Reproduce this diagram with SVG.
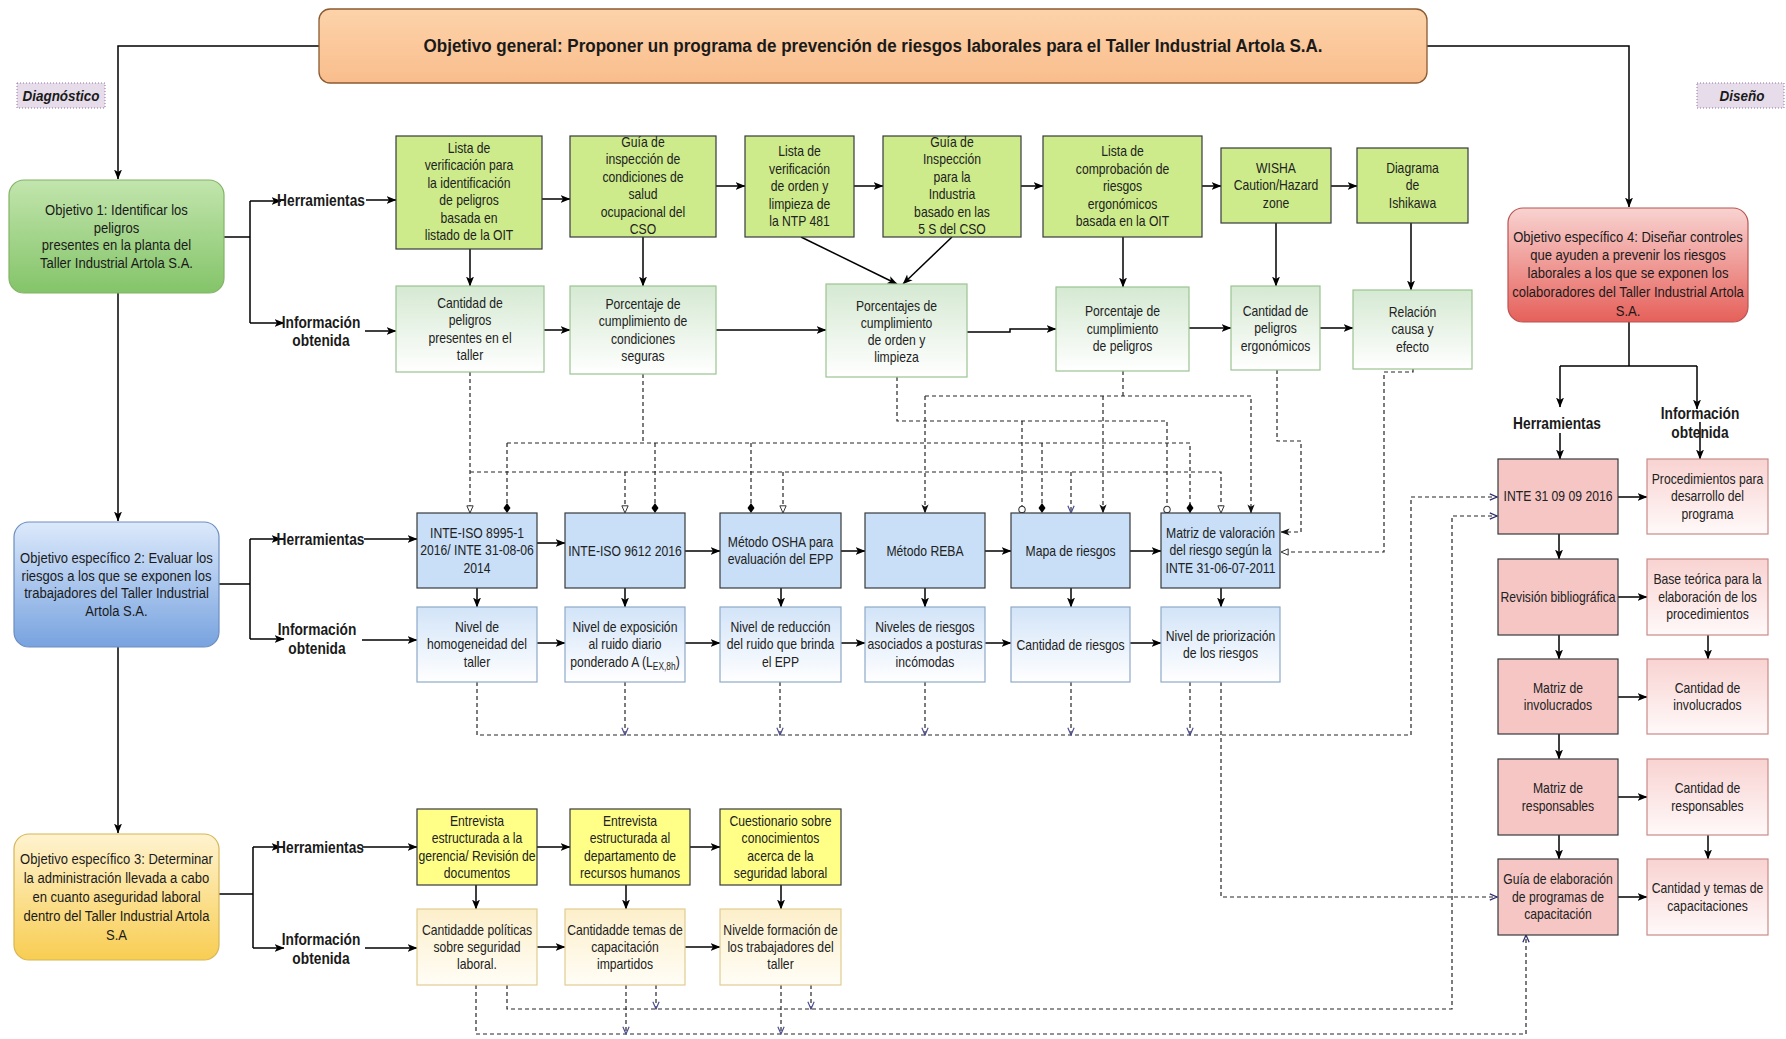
<svg xmlns="http://www.w3.org/2000/svg" width="1786" height="1039" viewBox="0 0 1786 1039">
<defs>
<style>
.t{font-family:"Liberation Sans",Arial,sans-serif;font-size:14.5px;fill:#222;text-anchor:middle}
.to{font-family:"Liberation Sans",Arial,sans-serif;font-size:15px;fill:#1a1a1a;text-anchor:middle}
.lb{font-family:"Liberation Sans",Arial,sans-serif;font-size:16px;font-weight:bold;fill:#1a1a1a;text-anchor:middle}
.tag{font-family:"Liberation Sans",Arial,sans-serif;font-size:15px;font-weight:bold;font-style:italic;fill:#1a1a1a;text-anchor:middle}
.s{fill:none;stroke:#000;stroke-width:1.5}
.d{fill:none;stroke:#262626;stroke-width:1.2;stroke-dasharray:4 3}
.tg{fill:#cdeb8b;stroke:#36393d;stroke-width:1.2}
.ig{fill:url(#gig);stroke:#9cc392;stroke-width:1.2}
.tb{fill:#c8dff7;stroke:#36393d;stroke-width:1.2}
.ib{fill:url(#gib);stroke:#8fa9c9;stroke-width:1.2}
.ty{fill:#ffff88;stroke:#36393d;stroke-width:1.2}
.iy{fill:url(#giy);stroke:#e0cc92;stroke-width:1.2}
.tr{fill:#f5c6c4;stroke:#36393d;stroke-width:1.2}
.ir{fill:url(#gir);stroke:#c98b88;stroke-width:1.2}
</style>
<linearGradient id="gban" x1="0" y1="0" x2="0" y2="1"><stop offset="0" stop-color="#fdd3aa"/><stop offset="1" stop-color="#f9bd8c"/></linearGradient>
<linearGradient id="go1" x1="0" y1="0" x2="0" y2="1"><stop offset="0" stop-color="#c2e5ad"/><stop offset="1" stop-color="#84c469"/></linearGradient>
<linearGradient id="go2" x1="0" y1="0" x2="0" y2="1"><stop offset="0" stop-color="#dce9fb"/><stop offset="1" stop-color="#78a3df"/></linearGradient>
<linearGradient id="go3" x1="0" y1="0" x2="0" y2="1"><stop offset="0" stop-color="#fff3cf"/><stop offset="1" stop-color="#f8cd52"/></linearGradient>
<linearGradient id="go4" x1="0" y1="0" x2="0" y2="1"><stop offset="0" stop-color="#f8d3d1"/><stop offset="1" stop-color="#e6605a"/></linearGradient>
<linearGradient id="gig" x1="0" y1="0" x2="0" y2="1"><stop offset="0" stop-color="#d5e9d2"/><stop offset="1" stop-color="#ffffff"/></linearGradient>
<linearGradient id="gib" x1="0" y1="0" x2="0" y2="1"><stop offset="0" stop-color="#d2e4f8"/><stop offset="1" stop-color="#ffffff"/></linearGradient>
<linearGradient id="giy" x1="0" y1="0" x2="0" y2="1"><stop offset="0" stop-color="#fcefca"/><stop offset="1" stop-color="#fffdf6"/></linearGradient>
<linearGradient id="gir" x1="0" y1="0" x2="0" y2="1"><stop offset="0" stop-color="#f8d3d1"/><stop offset="1" stop-color="#fff9f9"/></linearGradient>
<marker id="a" viewBox="0 0 10 10" refX="9.5" refY="5" markerWidth="10" markerHeight="10" markerUnits="userSpaceOnUse" orient="auto"><path d="M0,1 L10,5 L0,9 L2.5,5 Z" fill="#000"/></marker>
<marker id="ad" viewBox="0 0 10 10" refX="9.5" refY="5" markerWidth="9" markerHeight="9" markerUnits="userSpaceOnUse" orient="auto"><path d="M0,1 L10,5 L0,9 L2.5,5 Z" fill="#111"/></marker>
<marker id="o" viewBox="0 0 10 10" refX="9" refY="5" markerWidth="9" markerHeight="9" markerUnits="userSpaceOnUse" orient="auto"><path d="M1,1.5 L9,5 L1,8.5 Z" fill="#fff" stroke="#333" stroke-width="1.1"/></marker>
<marker id="op" viewBox="0 0 10 10" refX="9" refY="5" markerWidth="9" markerHeight="9" markerUnits="userSpaceOnUse" orient="auto"><path d="M1,1.5 L9,5 L1,8.5" fill="none" stroke="#4b4b90" stroke-width="1.3"/></marker>
<marker id="opb" viewBox="0 0 10 10" refX="9" refY="5" markerWidth="9" markerHeight="9" markerUnits="userSpaceOnUse" orient="auto"><path d="M1,1.5 L9,5 L1,8.5" fill="none" stroke="#2d2d6e" stroke-width="1.4"/></marker>
<marker id="dm" viewBox="0 0 10 10" refX="10" refY="5" markerWidth="10" markerHeight="10" markerUnits="userSpaceOnUse" orient="auto"><path d="M0,5 L5,1.5 L10,5 L5,8.5 Z" fill="#000"/></marker>
<marker id="c" viewBox="0 0 10 10" refX="9.5" refY="5" markerWidth="8" markerHeight="8" markerUnits="userSpaceOnUse" orient="auto"><circle cx="5" cy="5" r="4" fill="#fff" stroke="#333" stroke-width="1.3"/></marker>
</defs>
<rect width="1786" height="1039" fill="#fff"/>

<g id="connectors">
<g id="solid">
<path class="s" d="M319,46 H118 V179" marker-end="url(#a)"/>
<path class="s" d="M1427,46 H1629 V207" marker-end="url(#a)"/>
<path class="s" d="M118,293 V521" marker-end="url(#a)"/>
<path class="s" d="M118,647 V833" marker-end="url(#a)"/>
<path class="s" d="M224,237 H250 M250,201 V323"/>
<path class="s" d="M250,201 H281" marker-end="url(#a)"/>
<path class="s" d="M250,323 H284" marker-end="url(#a)"/>
<path class="s" d="M366,200 H396" marker-end="url(#a)"/>
<path class="s" d="M365,331 H396" marker-end="url(#a)"/>
<path class="s" d="M542,199 H570" marker-end="url(#a)"/>
<path class="s" d="M716,186 H745" marker-end="url(#a)"/>
<path class="s" d="M854,186 H883" marker-end="url(#a)"/>
<path class="s" d="M1021,186 H1043" marker-end="url(#a)"/>
<path class="s" d="M1202,186 H1221" marker-end="url(#a)"/>
<path class="s" d="M1331,186 H1357" marker-end="url(#a)"/>
<path class="s" d="M470,249 V286" marker-end="url(#a)"/>
<path class="s" d="M643,237 V286" marker-end="url(#a)"/>
<path class="s" d="M801,237 L897,284" marker-end="url(#a)"/>
<path class="s" d="M952,237 L903,284" marker-end="url(#a)"/>
<path class="s" d="M1123,237 V287" marker-end="url(#a)"/>
<path class="s" d="M1276,223 V286" marker-end="url(#a)"/>
<path class="s" d="M1411,223 V290" marker-end="url(#a)"/>
<path class="s" d="M544,330 H570" marker-end="url(#a)"/>
<path class="s" d="M716,330 H826" marker-end="url(#a)"/>
<path class="s" d="M967,332 H1010 V329 H1056" marker-end="url(#a)"/>
<path class="s" d="M1189,328 H1231" marker-end="url(#a)"/>
<path class="s" d="M1320,328 H1353" marker-end="url(#a)"/>

<path class="s" d="M219,584 H250 M250,539 V639"/>
<path class="s" d="M250,539 H281" marker-end="url(#a)"/>
<path class="s" d="M250,639 H284" marker-end="url(#a)"/>
<path class="s" d="M364,539 H417" marker-end="url(#a)"/>
<path class="s" d="M362,640 H417" marker-end="url(#a)"/>
<path class="s" d="M537,543 H565" marker-end="url(#a)"/>
<path class="s" d="M685,551 H720" marker-end="url(#a)"/>
<path class="s" d="M841,551 H865" marker-end="url(#a)"/>
<path class="s" d="M985,551 H1011" marker-end="url(#a)"/>
<path class="s" d="M1130,551 H1161" marker-end="url(#a)"/>
<path class="s" d="M537,643 H565" marker-end="url(#a)"/>
<path class="s" d="M685,643 H720" marker-end="url(#a)"/>
<path class="s" d="M841,643 H865" marker-end="url(#a)"/>
<path class="s" d="M985,643 H1011" marker-end="url(#a)"/>
<path class="s" d="M1130,643 H1161" marker-end="url(#a)"/>
<path class="s" d="M477,588 V607" marker-end="url(#a)"/>
<path class="s" d="M625,588 V607" marker-end="url(#a)"/>
<path class="s" d="M781,588 V607" marker-end="url(#a)"/>
<path class="s" d="M925,588 V607" marker-end="url(#a)"/>
<path class="s" d="M1071,588 V607" marker-end="url(#a)"/>
<path class="s" d="M1221,588 V607" marker-end="url(#a)"/>

<path class="s" d="M219,894 H253 M253,847 V948"/>
<path class="s" d="M253,847 H281" marker-end="url(#a)"/>
<path class="s" d="M253,948 H284" marker-end="url(#a)"/>
<path class="s" d="M362,847 H417" marker-end="url(#a)"/>
<path class="s" d="M365,948 H417" marker-end="url(#a)"/>
<path class="s" d="M537,847 H570" marker-end="url(#a)"/>
<path class="s" d="M690,847 H720" marker-end="url(#a)"/>
<path class="s" d="M537,947 H565" marker-end="url(#a)"/>
<path class="s" d="M685,947 H720" marker-end="url(#a)"/>
<path class="s" d="M476,885 V909" marker-end="url(#a)"/>
<path class="s" d="M626,885 V909" marker-end="url(#a)"/>
<path class="s" d="M781,885 V909" marker-end="url(#a)"/>

<path class="s" d="M1629,322 V366 M1560,366 H1697"/>
<path class="s" d="M1560,366 V407" marker-end="url(#a)"/>
<path class="s" d="M1697,366 V409" marker-end="url(#a)"/>
<path class="s" d="M1560,433 V459" marker-end="url(#a)"/>
<path class="s" d="M1700,422 V459" marker-end="url(#a)"/>
<path class="s" d="M1559,534 V559" marker-end="url(#a)"/>
<path class="s" d="M1559,635 V659" marker-end="url(#a)"/>
<path class="s" d="M1559,734 V759" marker-end="url(#a)"/>
<path class="s" d="M1559,835 V859" marker-end="url(#a)"/>
<path class="s" d="M1708,635 V659" marker-end="url(#a)"/>
<path class="s" d="M1708,835 V859" marker-end="url(#a)"/>
<path class="s" d="M1618,497 H1647" marker-end="url(#a)"/>
<path class="s" d="M1618,597 H1647" marker-end="url(#a)"/>
<path class="s" d="M1618,697 H1647" marker-end="url(#a)"/>
<path class="s" d="M1618,797 H1647" marker-end="url(#a)"/>
<path class="s" d="M1618,897 H1647" marker-end="url(#a)"/>
</g>
<g id="dashed">
<path class="d" d="M470,372 V513" marker-end="url(#o)"/>
<path class="d" d="M470,472 H1221 V513" marker-end="url(#o)"/>
<path class="d" d="M625,472 V513" marker-end="url(#o)"/>
<path class="d" d="M783,472 V513" marker-end="url(#o)"/>
<path class="d" d="M1071,472 V513" marker-end="url(#op)"/>
<path class="d" d="M643,374 V443"/>
<path class="d" d="M507,443 H1190 V513" marker-end="url(#dm)"/>
<path class="d" d="M507,443 V513" marker-end="url(#dm)"/>
<path class="d" d="M655,443 V513" marker-end="url(#dm)"/>
<path class="d" d="M751,443 V513" marker-end="url(#dm)"/>
<path class="d" d="M1042,443 V513" marker-end="url(#dm)"/>
<path class="d" d="M897,377 V421 H1167 V513" marker-end="url(#c)"/>
<path class="d" d="M1022,421 V513" marker-end="url(#c)"/>
<path class="d" d="M1123,371 V396"/>
<path class="d" d="M925,396 H1251 V513" marker-end="url(#ad)"/>
<path class="d" d="M925,396 V513" marker-end="url(#ad)"/>
<path class="d" d="M1103,396 V513" marker-end="url(#ad)"/>
<path class="d" d="M1277,370 V441 H1301 V532 H1281" marker-end="url(#ad)"/>
<path class="d" d="M1413,369 V372 H1384 V552 H1281" marker-end="url(#o)"/>
<path class="d" d="M477,682 V735 H1411 V497 H1497" marker-end="url(#opb)"/>
<path class="d" d="M625,682 V735" marker-end="url(#op)"/>
<path class="d" d="M780,682 V735" marker-end="url(#op)"/>
<path class="d" d="M925,682 V735" marker-end="url(#op)"/>
<path class="d" d="M1071,682 V735" marker-end="url(#op)"/>
<path class="d" d="M1190,682 V735" marker-end="url(#op)"/>
<path class="d" d="M1221,682 V897 H1497" marker-end="url(#opb)"/>
<path class="d" d="M507,985 V1009 H1452 V516 H1497" marker-end="url(#opb)"/>
<path class="d" d="M656,985 V1009" marker-end="url(#op)"/>
<path class="d" d="M811,985 V1009" marker-end="url(#op)"/>
<path class="d" d="M476,985 V1034 H1526 V935" marker-end="url(#opb)"/>
<path class="d" d="M626,985 V1034" marker-end="url(#op)"/>
<path class="d" d="M781,985 V1034" marker-end="url(#op)"/>
</g>
</g>

<g id="banner">
<rect x="319" y="9" width="1108" height="74" rx="11" fill="url(#gban)" stroke="#8a5a30" stroke-width="1.3"/>
<text x="873" y="52" font-family="Liberation Sans, Arial, sans-serif" font-size="18" font-weight="bold" fill="#1a1a1a" text-anchor="middle" textLength="899" lengthAdjust="spacingAndGlyphs">Objetivo general: Proponer un programa de prevención de riesgos laborales para el Taller Industrial Artola S.A.</text>
</g>
<g id="tag-diagnostico">
<rect x="17" y="83" width="88" height="25" fill="#e6dcea" stroke="#9673a6" stroke-dasharray="1 2"/>
<text class="tag" transform="translate(61 0) scale(.9 1)" x="0" y="101">Diagnóstico</text>
</g>
<g id="tag-diseno">
<rect x="1697" y="83" width="87" height="25" fill="#e6dcea" stroke="#9673a6" stroke-dasharray="1 2"/>
<text class="tag" transform="translate(1742 0) scale(.9 1)" x="0" y="101">Diseño</text>
</g>

<g id="obj1">
<rect x="9" y="180" width="215" height="113" rx="15" fill="url(#go1)" stroke="#82b366" stroke-width="1.2"/>
<text class="to" transform="translate(116.5 0) scale(.87 1)"><tspan x="0" y="215">Objetivo 1: Identificar los</tspan><tspan x="0" y="233">peligros</tspan><tspan x="0" y="250">presentes en la planta del</tspan><tspan x="0" y="268">Taller Industrial Artola S.A.</tspan></text>
</g>
<g id="obj2">
<rect x="14" y="522" width="205" height="125" rx="15" fill="url(#go2)" stroke="#6c8ebf" stroke-width="1.2"/>
<text class="to" transform="translate(116.5 0) scale(.87 1)"><tspan x="0" y="563">Objetivo específico 2: Evaluar los</tspan><tspan x="0" y="581">riesgos a los que se exponen los</tspan><tspan x="0" y="598">trabajadores del Taller Industrial</tspan><tspan x="0" y="616">Artola S.A.</tspan></text>
</g>
<g id="obj3">
<rect x="14" y="834" width="205" height="126" rx="15" fill="url(#go3)" stroke="#d6b656" stroke-width="1.2"/>
<text class="to" transform="translate(116.5 0) scale(.87 1)"><tspan x="0" y="864">Objetivo específico 3: Determinar</tspan><tspan x="0" y="883">la administración llevada a cabo</tspan><tspan x="0" y="902">en cuanto aseguridad laboral</tspan><tspan x="0" y="921">dentro del Taller Industrial Artola</tspan><tspan x="0" y="940">S.A</tspan></text>
</g>
<g id="obj4">
<rect x="1508" y="208" width="240" height="114" rx="15" fill="url(#go4)" stroke="#b85450" stroke-width="1.2"/>
<text class="to" transform="translate(1628 0) scale(.87 1)"><tspan x="0" y="242">Objetivo específico 4: Diseñar controles</tspan><tspan x="0" y="260">que ayuden a prevenir los riesgos</tspan><tspan x="0" y="278">laborales a los que se exponen los</tspan><tspan x="0" y="297">colaboradores del Taller Industrial Artola</tspan><tspan x="0" y="316">S.A.</tspan></text>
</g>

<g id="labels">
<text class="lb" transform="translate(321 0) scale(.86 1)" x="0" y="206">Herramientas</text>
<text class="lb" transform="translate(321 0) scale(.86 1)"><tspan x="0" y="328">Información</tspan><tspan x="0" y="346">obtenida</tspan></text>
<text class="lb" transform="translate(320.5 0) scale(.86 1)" x="0" y="545">Herramientas</text>
<text class="lb" transform="translate(317 0) scale(.86 1)"><tspan x="0" y="635">Información</tspan><tspan x="0" y="654">obtenida</tspan></text>
<text class="lb" transform="translate(320 0) scale(.86 1)" x="0" y="853">Herramientas</text>
<text class="lb" transform="translate(321 0) scale(.86 1)"><tspan x="0" y="945">Información</tspan><tspan x="0" y="964">obtenida</tspan></text>
<text class="lb" transform="translate(1557 0) scale(.86 1)" x="0" y="429">Herramientas</text>
<text class="lb" transform="translate(1700 0) scale(.86 1)"><tspan x="0" y="419">Información</tspan><tspan x="0" y="438">obtenida</tspan></text>
</g>

<g id="g1"><rect class="tg" x="396" y="136" width="146" height="113"/>
<text class="t" transform="translate(469 0) scale(.84 1)"><tspan x="0" y="153">Lista de</tspan><tspan x="0" y="170.5">verificación para</tspan><tspan x="0" y="188">la identificación</tspan><tspan x="0" y="205.5">de peligros</tspan><tspan x="0" y="223">basada en</tspan><tspan x="0" y="240.5">listado de la OIT</tspan></text></g>
<g id="g2"><rect class="tg" x="570" y="136" width="146" height="101"/>
<text class="t" transform="translate(643 0) scale(.84 1)"><tspan x="0" y="147">Guía de</tspan><tspan x="0" y="164.5">inspección de</tspan><tspan x="0" y="182">condiciones de</tspan><tspan x="0" y="199.5">salud</tspan><tspan x="0" y="217">ocupacional del</tspan><tspan x="0" y="234.5">CSO</tspan></text></g>
<g id="g3"><rect class="tg" x="745" y="136" width="109" height="101"/>
<text class="t" transform="translate(799.5 0) scale(.84 1)"><tspan x="0" y="156.5">Lista de</tspan><tspan x="0" y="174">verificación</tspan><tspan x="0" y="191.5">de orden y</tspan><tspan x="0" y="209">limpieza de</tspan><tspan x="0" y="226.5">la NTP 481</tspan></text></g>
<g id="g4"><rect class="tg" x="883" y="136" width="138" height="101"/>
<text class="t" transform="translate(952 0) scale(.84 1)"><tspan x="0" y="147">Guía de</tspan><tspan x="0" y="164.5">Inspección</tspan><tspan x="0" y="182">para la</tspan><tspan x="0" y="199.5">Industria</tspan><tspan x="0" y="217">basado en las</tspan><tspan x="0" y="234.5">5 S del CSO</tspan></text></g>
<g id="g5"><rect class="tg" x="1043" y="136" width="159" height="101"/>
<text class="t" transform="translate(1122.5 0) scale(.84 1)"><tspan x="0" y="156.5">Lista de</tspan><tspan x="0" y="174">comprobación de</tspan><tspan x="0" y="191.5">riesgos</tspan><tspan x="0" y="209">ergonómicos</tspan><tspan x="0" y="226.5">basada en la OIT</tspan></text></g>
<g id="g6"><rect class="tg" x="1221" y="148" width="110" height="75"/>
<text class="t" transform="translate(1276 0) scale(.84 1)"><tspan x="0" y="173">WISHA</tspan><tspan x="0" y="190.5">Caution/Hazard</tspan><tspan x="0" y="208">zone</tspan></text></g>
<g id="g7"><rect class="tg" x="1357" y="148" width="111" height="75"/>
<text class="t" transform="translate(1412.5 0) scale(.84 1)"><tspan x="0" y="173">Diagrama</tspan><tspan x="0" y="190.5">de</tspan><tspan x="0" y="208">Ishikawa</tspan></text></g>

<g id="i1"><rect class="ig" x="396" y="286" width="148" height="86"/>
<text class="t" transform="translate(470 0) scale(.84 1)"><tspan x="0" y="308">Cantidad de</tspan><tspan x="0" y="325.5">peligros</tspan><tspan x="0" y="343">presentes en el</tspan><tspan x="0" y="360.5">taller</tspan></text></g>
<g id="i2"><rect class="ig" x="570" y="286" width="146" height="88"/>
<text class="t" transform="translate(643 0) scale(.84 1)"><tspan x="0" y="309">Porcentaje de</tspan><tspan x="0" y="326.5">cumplimiento de</tspan><tspan x="0" y="344">condiciones</tspan><tspan x="0" y="361.5">seguras</tspan></text></g>
<g id="i3"><rect class="ig" x="826" y="284" width="141" height="93"/>
<text class="t" transform="translate(896.5 0) scale(.84 1)"><tspan x="0" y="311">Porcentajes de</tspan><tspan x="0" y="328">cumplimiento</tspan><tspan x="0" y="345">de orden y</tspan><tspan x="0" y="362">limpieza</tspan></text></g>
<g id="i4"><rect class="ig" x="1056" y="287" width="133" height="84"/>
<text class="t" transform="translate(1122.5 0) scale(.84 1)"><tspan x="0" y="316.5">Porcentaje de</tspan><tspan x="0" y="334">cumplimiento</tspan><tspan x="0" y="351.5">de peligros</tspan></text></g>
<g id="i5"><rect class="ig" x="1231" y="286" width="89" height="84"/>
<text class="t" transform="translate(1275.5 0) scale(.84 1)"><tspan x="0" y="316">Cantidad de</tspan><tspan x="0" y="333.5">peligros</tspan><tspan x="0" y="351">ergonómicos</tspan></text></g>
<g id="i6"><rect class="ig" x="1353" y="290" width="119" height="79"/>
<text class="t" transform="translate(1412.5 0) scale(.84 1)"><tspan x="0" y="317">Relación</tspan><tspan x="0" y="334.5">causa y</tspan><tspan x="0" y="352">efecto</tspan></text></g>

<g id="b1"><rect class="tb" x="417" y="513" width="120" height="75"/>
<text class="t" transform="translate(477 0) scale(.84 1)"><tspan x="0" y="538">INTE-ISO 8995-1</tspan><tspan x="0" y="555.5">2016/ INTE 31-08-06</tspan><tspan x="0" y="573">2014</tspan></text></g>
<g id="b2"><rect class="tb" x="565" y="513" width="120" height="75"/>
<text class="t" transform="translate(625 0) scale(.84 1)" x="0" y="556">INTE-ISO 9612 2016</text></g>
<g id="b3"><rect class="tb" x="720" y="513" width="121" height="75"/>
<text class="t" transform="translate(780.5 0) scale(.84 1)"><tspan x="0" y="547">Método OSHA para</tspan><tspan x="0" y="564.5">evaluación del EPP</tspan></text></g>
<g id="b4"><rect class="tb" x="865" y="513" width="120" height="75"/>
<text class="t" transform="translate(925 0) scale(.84 1)" x="0" y="556">Método REBA</text></g>
<g id="b5"><rect class="tb" x="1011" y="513" width="119" height="75"/>
<text class="t" transform="translate(1070.5 0) scale(.84 1)" x="0" y="556">Mapa de riesgos</text></g>
<g id="b6"><rect class="tb" x="1161" y="513" width="119" height="75"/>
<text class="t" transform="translate(1220.5 0) scale(.84 1)"><tspan x="0" y="538">Matriz de valoración</tspan><tspan x="0" y="555.5">del riesgo según la</tspan><tspan x="0" y="573">INTE 31-06-07-2011</tspan></text></g>

<g id="bi1"><rect class="ib" x="417" y="607" width="120" height="75"/>
<text class="t" transform="translate(477 0) scale(.84 1)"><tspan x="0" y="632">Nivel de</tspan><tspan x="0" y="649.5">homogeneidad del</tspan><tspan x="0" y="667">taller</tspan></text></g>
<g id="bi2"><rect class="ib" x="565" y="607" width="120" height="75"/>
<text class="t" transform="translate(625 0) scale(.84 1)"><tspan x="0" y="632">Nivel de exposición</tspan><tspan x="0" y="649.5">al ruido diario</tspan><tspan x="0" y="667">ponderado A (L<tspan font-size="10" dy="3">EX,8h</tspan><tspan dy="-3">)</tspan></tspan></text></g>
<g id="bi3"><rect class="ib" x="720" y="607" width="121" height="75"/>
<text class="t" transform="translate(780.5 0) scale(.84 1)"><tspan x="0" y="632">Nivel de reducción</tspan><tspan x="0" y="649.5">del ruido que brinda</tspan><tspan x="0" y="667">el EPP</tspan></text></g>
<g id="bi4"><rect class="ib" x="865" y="607" width="120" height="75"/>
<text class="t" transform="translate(925 0) scale(.84 1)"><tspan x="0" y="632">Niveles de riesgos</tspan><tspan x="0" y="649.5">asociados a posturas</tspan><tspan x="0" y="667">incómodas</tspan></text></g>
<g id="bi5"><rect class="ib" x="1011" y="607" width="119" height="75"/>
<text class="t" transform="translate(1070.5 0) scale(.84 1)" x="0" y="650">Cantidad de riesgos</text></g>
<g id="bi6"><rect class="ib" x="1161" y="607" width="119" height="75"/>
<text class="t" transform="translate(1220.5 0) scale(.84 1)"><tspan x="0" y="641">Nivel de priorización</tspan><tspan x="0" y="658.5">de los riesgos</tspan></text></g>

<g id="y1"><rect class="ty" x="417" y="809" width="120" height="76"/>
<text class="t" transform="translate(477 0) scale(.84 1)"><tspan x="0" y="826">Entrevista</tspan><tspan x="0" y="843.5">estructurada a la</tspan><tspan x="0" y="861">gerencia/ Revisión de</tspan><tspan x="0" y="878.5">documentos</tspan></text></g>
<g id="y2"><rect class="ty" x="570" y="809" width="120" height="76"/>
<text class="t" transform="translate(630 0) scale(.84 1)"><tspan x="0" y="826">Entrevista</tspan><tspan x="0" y="843.5">estructurada al</tspan><tspan x="0" y="861">departamento de</tspan><tspan x="0" y="878.5">recursos humanos</tspan></text></g>
<g id="y3"><rect class="ty" x="720" y="809" width="121" height="76"/>
<text class="t" transform="translate(780.5 0) scale(.84 1)"><tspan x="0" y="826">Cuestionario sobre</tspan><tspan x="0" y="843.5">conocimientos</tspan><tspan x="0" y="861">acerca de la</tspan><tspan x="0" y="878.5">seguridad laboral</tspan></text></g>

<g id="yi1"><rect class="iy" x="417" y="909" width="120" height="76"/>
<text class="t" transform="translate(477 0) scale(.84 1)"><tspan x="0" y="934.5">Cantidadde políticas</tspan><tspan x="0" y="952">sobre seguridad</tspan><tspan x="0" y="969.5">laboral.</tspan></text></g>
<g id="yi2"><rect class="iy" x="565" y="909" width="120" height="76"/>
<text class="t" transform="translate(625 0) scale(.84 1)"><tspan x="0" y="934.5">Cantidadde temas de</tspan><tspan x="0" y="952">capacitación</tspan><tspan x="0" y="969.5">impartidos</tspan></text></g>
<g id="yi3"><rect class="iy" x="720" y="909" width="121" height="76"/>
<text class="t" transform="translate(780.5 0) scale(.84 1)"><tspan x="0" y="934.5">Nivelde formación de</tspan><tspan x="0" y="952">los trabajadores del</tspan><tspan x="0" y="969.5">taller</tspan></text></g>

<g id="r1"><rect class="tr" x="1498" y="459" width="120" height="75"/>
<text class="t" transform="translate(1558 0) scale(.84 1)" x="0" y="501.5">INTE 31 09 09 2016</text></g>
<g id="ri1"><rect class="ir" x="1647" y="459" width="121" height="75"/>
<text class="t" transform="translate(1707.5 0) scale(.84 1)"><tspan x="0" y="484">Procedimientos para</tspan><tspan x="0" y="501.5">desarrollo del</tspan><tspan x="0" y="519">programa</tspan></text></g>
<g id="r2"><rect class="tr" x="1498" y="559" width="120" height="76"/>
<text class="t" transform="translate(1558 0) scale(.84 1)" x="0" y="602">Revisión bibliográfica</text></g>
<g id="ri2"><rect class="ir" x="1647" y="559" width="121" height="76"/>
<text class="t" transform="translate(1707.5 0) scale(.84 1)"><tspan x="0" y="584.5">Base teórica para la</tspan><tspan x="0" y="602">elaboración de los</tspan><tspan x="0" y="619.5">procedimientos</tspan></text></g>
<g id="r3"><rect class="tr" x="1498" y="659" width="120" height="75"/>
<text class="t" transform="translate(1558 0) scale(.84 1)"><tspan x="0" y="693">Matriz de</tspan><tspan x="0" y="710.5">involucrados</tspan></text></g>
<g id="ri3"><rect class="ir" x="1647" y="659" width="121" height="75"/>
<text class="t" transform="translate(1707.5 0) scale(.84 1)"><tspan x="0" y="693">Cantidad de</tspan><tspan x="0" y="710.5">involucrados</tspan></text></g>
<g id="r4"><rect class="tr" x="1498" y="759" width="120" height="76"/>
<text class="t" transform="translate(1558 0) scale(.84 1)"><tspan x="0" y="793.5">Matriz de</tspan><tspan x="0" y="811">responsables</tspan></text></g>
<g id="ri4"><rect class="ir" x="1647" y="759" width="121" height="76"/>
<text class="t" transform="translate(1707.5 0) scale(.84 1)"><tspan x="0" y="793.5">Cantidad de</tspan><tspan x="0" y="811">responsables</tspan></text></g>
<g id="r5"><rect class="tr" x="1498" y="859" width="120" height="76"/>
<text class="t" transform="translate(1558 0) scale(.84 1)"><tspan x="0" y="884.5">Guía de elaboración</tspan><tspan x="0" y="902">de programas de</tspan><tspan x="0" y="919.5">capacitación</tspan></text></g>
<g id="ri5"><rect class="ir" x="1647" y="859" width="121" height="76"/>
<text class="t" transform="translate(1707.5 0) scale(.84 1)"><tspan x="0" y="893.5">Cantidad y temas de</tspan><tspan x="0" y="911">capacitaciones</tspan></text></g>
</svg>
